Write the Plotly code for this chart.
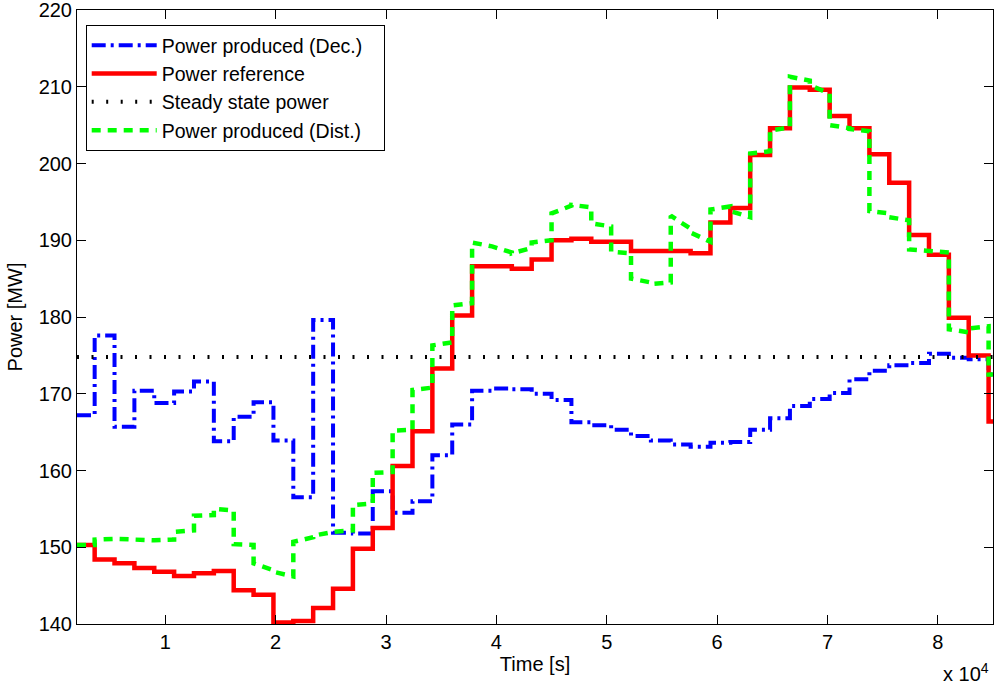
import plotly.graph_objects as go

# Interval boundaries (s)
step_times = [2000, 3600, 5400, 7200, 9000, 10800, 12600, 14400, 16200, 18000, 19800,
              21600, 23400, 25200, 27000, 28800, 30600, 32400, 34200, 36000, 37800,
              39600, 41400, 43200, 45000, 46800, 48600, 50400, 52200, 54000, 55800,
              57600, 59400, 61200, 63000, 64800, 66600, 68400, 70200, 72000, 73800,
              75600, 77400, 79200, 81000, 82800, 84600, 85000]

# Power reference (MW), one value per interval
power_ref = [150.3, 148.4, 147.9, 147.3, 146.8, 146.25, 146.6, 146.9, 144.4, 143.8,
             140.2, 140.4, 142.1, 144.6, 149.8, 152.5, 160.6, 165.1, 173.3, 180.2,
             186.6, 186.6, 186.3, 187.5, 190.0, 190.2, 189.8, 189.8, 188.6, 188.6,
             188.6, 188.3, 192.3, 194.2, 201.1, 204.6, 209.9, 209.6, 206.2, 204.6,
             201.2, 197.5, 190.7, 188.1, 179.9, 175.0, 166.4]

# Power produced, decentralized (MW), one value per interval
power_dec = [167.2, 177.6, 165.7, 170.4, 168.8, 170.3, 171.6, 163.8, 167.0, 168.9,
             163.9, 156.5, 179.6, 151.9, 151.8, 157.3, 154.5, 156.0, 162.0, 166.0,
             170.4, 170.7, 170.6, 170.0, 169.2, 166.3, 165.9, 165.3, 164.5, 163.9,
             163.4, 163.1, 163.6, 163.7, 165.3, 166.8, 168.4, 169.3, 170.1, 171.9,
             173.0, 173.7, 174.0, 175.2, 174.7, 174.5, 172.5]

# Power produced, distributed (MW): value at start and end of each interval
power_dist_start = [150.3, 151.0, 151.1, 151.0, 150.9, 152.0, 154.1, 155.0, 150.4, 147.9,
                    146.8, 150.7, 151.5, 152.0, 155.5, 159.7, 165.2, 170.5, 176.3, 181.5,
                    189.7, 189.2, 188.3, 189.7, 193.5, 194.6, 192.2, 188.5, 185.0, 184.3,
                    193.2, 191.0, 194.0, 193.8, 201.3, 204.3, 211.3, 210.2, 205.0, 204.5,
                    193.8, 193.0, 188.8, 188.6, 178.4, 178.5, 172.5]
power_dist_end = [150.3, 151.1, 151.0, 150.9, 151.0, 152.2, 154.2, 154.8, 150.3, 147.0,
                  146.2, 151.3, 152.0, 152.2, 155.7, 159.8, 165.3, 170.8, 176.7, 181.8,
                  189.3, 188.4, 189.0, 190.0, 194.5, 194.3, 191.8, 188.3, 184.5, 184.5,
                  191.5, 189.8, 194.4, 193.0, 201.6, 204.7, 210.8, 209.1, 204.6, 204.2,
                  193.5, 192.6, 188.6, 188.4, 178.0, 178.8, 172.5]

steady_state = 174.8

x_ticks = [10000, 20000, 30000, 40000, 50000, 60000, 70000, 80000]
x_tick_labels = ["1", "2", "3", "4", "5", "6", "7", "8"]
y_ticks = [140, 150, 160, 170, 180, 190, 200, 210, 220]

# step series: value held over each interval
step_x = step_times[:-1] + [step_times[-1]]
ref_y = power_ref + [power_ref[-1]]
dec_y = power_dec + [power_dec[-1]]

# distributed series: piecewise linear inside intervals, jumps at boundaries
dist_x, dist_y = [], []
for i in range(len(power_dist_start)):
    dist_x += [step_times[i], step_times[i + 1]]
    dist_y += [power_dist_start[i], power_dist_end[i]]

FONT = "Liberation Sans, Arial, Helvetica, sans-serif"
FS = 20
NB = "\u00a0"

fig = go.Figure()
fig.add_trace(go.Scatter(x=step_x, y=dec_y, mode="lines", line_shape="hv",
                         name="Power produced (Dec.)" + NB * 3,
                         line=dict(color="#0000ff", width=4, dash="14px,5px,3px,5px")))
fig.add_trace(go.Scatter(x=step_x, y=ref_y, mode="lines", line_shape="hv",
                         name="Power reference",
                         line=dict(color="#ff0000", width=4.5)))
fig.add_trace(go.Scatter(x=[step_times[0], step_times[-1]], y=[steady_state, steady_state],
                         mode="lines", name="Steady state power",
                         line=dict(color="#000000", width=4, dash="2px,12.5px")))
fig.add_trace(go.Scatter(x=dist_x, y=dist_y, mode="lines",
                         name="Power produced (Dist.)",
                         line=dict(color="#00ff00", width=4.5, dash="9px,7px")))

axis_common = dict(showgrid=False, zeroline=False, showline=True, linecolor="black",
                   linewidth=1, mirror="ticks", ticks="inside", ticklen=9,
                   tickcolor="black", tickwidth=1, automargin=False,
                   ticklabeloverflow="allow",
                   tickfont=dict(family=FONT, size=FS, color="black"))

fig.update_xaxes(range=[step_times[0], step_times[-1]], tickvals=x_ticks,
                 ticktext=x_tick_labels,
                 title=dict(text="Time [s]", font=dict(family=FONT, size=FS, color="black"),
                            standoff=2),
                 **axis_common)
fig.update_yaxes(range=[140, 220], tickvals=y_ticks,
                 title=dict(text="Power [MW]", font=dict(family=FONT, size=FS, color="black"),
                            standoff=10),
                 **axis_common)

fig.add_annotation(text="x 10<sup>4</sup>", xref="paper", yref="paper", x=0.998, y=-0.056,
                   xanchor="right", yanchor="top", showarrow=False,
                   font=dict(family=FONT, size=FS, color="black"))

fig.update_layout(
    width=999, height=691,
    margin=dict(l=77, r=6, t=10, b=67),
    paper_bgcolor="white", plot_bgcolor="white",
    font=dict(family=FONT, size=FS, color="black"),
    showlegend=True,
    legend=dict(x=0.0095, y=0.9756, xanchor="left", yanchor="top",
                bgcolor="white", bordercolor="black", borderwidth=1,
                font=dict(family=FONT, size=19.5, color="black"),
                itemwidth=65, tracegroupgap=0),
)

fig.write_html("out.html", config={"displayModeBar": False},
               post_script="document.body.style.margin='0px';document.body.style.overflow='hidden';")
